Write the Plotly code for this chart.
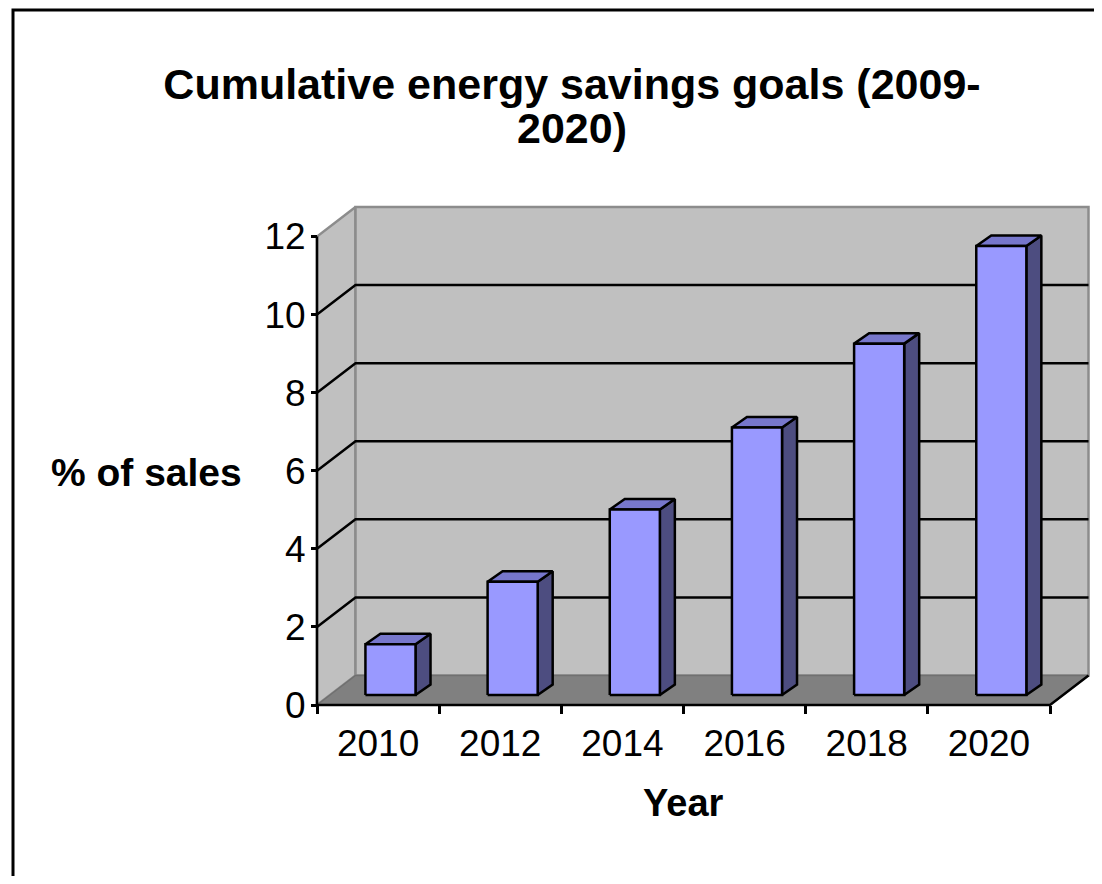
import plotly.graph_objects as go

# ---- data ----
years = ["2010", "2012", "2014", "2016", "2018", "2020"]
savings = [1.3, 2.9, 4.75, 6.85, 9.0, 11.5]
y_ticks = [0, 2, 4, 6, 8, 10, 12]

# ---- geometry / style constants (page pixel coordinates) ----
OFF = 8                        # default body margin of the html page
W, H = 1102 - OFF, 884 - 2 * OFF
PX0, PXN = 317, 1050           # pixel of x=0 and x=6
PY0, PY12 = 705, 236.5         # pixel of y=0 and y=12
KX = (PXN - PX0) / len(years)
KY = (PY0 - PY12) / 12.0
PL, PR, PT, PB = 300, 1096, 198, 720   # plot area pixels

DX = 38.5 / KX   # wall depth
DY = 29.5 / KY
FDX = 13.0 / KX  # bar front face depth shift
FDY = 10.0 / KY
BDX = 15.0 / KX  # bar depth
BDY = 10.5 / KY
BAR_L = 0.29     # bar left offset within category
BAR_W = 0.41

YMAX = 12
NC = len(years)

FRONT = "#9999FF"
TOP = "#7777CC"
SIDE = "#4D4D80"
WALL = "#C0C0C0"
FLOOR = "#808080"
FONT = "Arial, Liberation Sans, sans-serif"

def px2x(p):
    return (p - PX0) / KX

def py2y(p):
    return (PY0 - p) / KY

def paper_x(p):
    return (p - PL) / (PR - PL)

def paper_y(p):
    return (PB - p) / (PB - PT)

fig = go.Figure()

def poly(xs, ys, fill, line_color, lw=2.0):
    fig.add_trace(go.Scatter(
        x=list(xs) + [xs[0]], y=list(ys) + [ys[0]], mode="lines",
        fill="toself", fillcolor=fill,
        line=dict(color=line_color, width=lw),
        hoverinfo="skip", showlegend=False))

def seg(xs, ys, color, lw=2.5):
    fig.add_trace(go.Scatter(
        x=xs, y=ys, mode="lines", line=dict(color=color, width=lw),
        hoverinfo="skip", showlegend=False))

# side wall
poly([0, 0, DX, DX], [0, YMAX, YMAX + DY, DY], WALL, "#8C8C8C", 2.5)
# back wall
poly([DX, DX, NC + DX, NC + DX], [DY, YMAX + DY, YMAX + DY, DY], WALL, "#8C8C8C", 2.5)
# floor
poly([0, NC, NC + DX, DX], [0, 0, DY, DY], FLOOR, "#707070", 1.5)

# gridlines (side wall diagonal + back wall)
for v in y_ticks[1:-1]:
    seg([0, DX, NC + DX], [v, v + DY, v + DY], "black", 2.5)

# axes lines
seg([0, 0], [0, YMAX], "black", 2.5)
seg([0, NC, NC + DX], [0, 0, DY], "black", 2.5)

# bars
for i, v in enumerate(savings):
    L = i + BAR_L + FDX
    R = L + BAR_W
    B = FDY
    T = FDY + v
    poly([R, R, R + BDX, R + BDX], [B, T, T + BDY, B + BDY], SIDE, "black", 2.5)
    poly([L, R, R + BDX, L + BDX], [T, T, T + BDY, T + BDY], TOP, "black", 2.5)
    poly([L, R, R, L], [B, B, T, T], FRONT, "black", 2.5)

centers = [i + 0.5 for i in range(NC)]

fig.update_layout(
    width=W, height=H,
    margin=dict(l=PL - OFF, r=(W + OFF) - PR, t=PT - OFF, b=(H + OFF) - PB),
    paper_bgcolor="white", plot_bgcolor="rgba(0,0,0,0)",
    showlegend=False,
    font=dict(family=FONT, color="black", size=36),
    title=dict(
        text="<b>Cumulative energy savings goals (2009-</b>",
        x=(572 - OFF) / W, xanchor="center", xref="container",
        y=1 - (84 - OFF) / H, yanchor="middle", yref="container",
        font=dict(family=FONT, size=43, color="black")),
    xaxis=dict(
        range=[px2x(PL), px2x(PR)], showgrid=False, zeroline=False,
        showline=False, anchor="free", position=paper_y(PY0),
        tickmode="array", tickvals=centers, ticktext=years,
        ticks="outside", ticklen=8, tickcolor="rgba(0,0,0,0)",
        ticklabelstandoff=-2,
        tickfont=dict(family=FONT, size=37, color="black"),
        minor=dict(tickmode="array", tickvals=list(range(NC + 1)),
                   ticks="outside", ticklen=8, tickwidth=2.5,
                   tickcolor="black", showgrid=False),
        fixedrange=True),
    yaxis=dict(
        range=[py2y(PB), py2y(PT)], showgrid=False, zeroline=False,
        showline=False, anchor="free", position=paper_x(PX0),
        tickmode="array", tickvals=y_ticks,
        ticks="outside", ticklen=6, tickwidth=2.5, tickcolor="black",
        ticklabelstandoff=-2,
        tickfont=dict(family=FONT, size=37, color="black"),
        fixedrange=True),
    annotations=[
        dict(text="<b>2020)</b>", xref="paper", yref="paper",
             x=paper_x(572), y=paper_y(128), xanchor="center", yanchor="middle",
             showarrow=False, font=dict(family=FONT, size=43, color="black")),
        dict(text="<b>% of sales</b>", xref="paper", yref="paper",
             x=paper_x(146), y=paper_y(472), xanchor="center", yanchor="middle",
             showarrow=False, font=dict(family=FONT, size=39, color="black")),
        dict(text="<b>Year</b>", xref="x", yref="paper",
             x=NC / 2, y=paper_y(803), xanchor="center", yanchor="middle",
             showarrow=False, font=dict(family=FONT, size=38, color="black")),
    ],
    shapes=[dict(type="rect", xref="paper", yref="paper",
                 x0=paper_x(13), x1=paper_x(1115), y0=paper_y(900), y1=paper_y(10),
                 line=dict(color="black", width=3), fillcolor="rgba(0,0,0,0)")],
)

fig.write_html("out.html")
